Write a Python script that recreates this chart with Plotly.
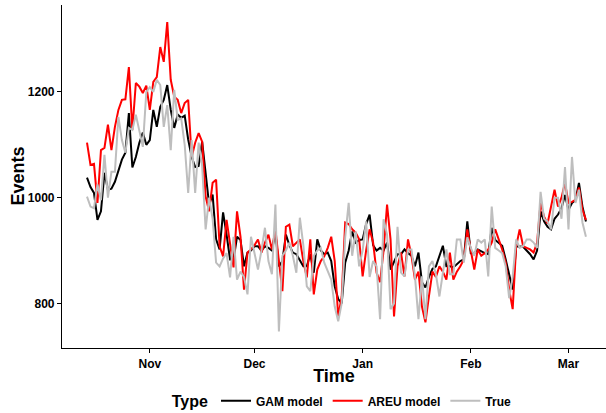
import pandas as pd
import plotly.graph_objects as go

dates = pd.date_range("2018-10-14", "2019-03-06", freq="D")

gam = [1038, 1020, 1009, 958, 974, 1047, 1015, 1017, 1030, 1053,
       1072, 1085, 1160, 1057, 1077, 1104, 1123, 1100, 1109, 1166,
       1134, 1172, 1185, 1213, 1166, 1132, 1157, 1151, 1155, 1110,
       1077, 1058, 1060, 1106, 1040, 987, 1006, 921, 902, 972,
       930, 883, 883, 926, 920, 870, 896, 900, 908, 908,
       900, 908, 905, 900, 934, 870, 880, 930, 910, 896,
       893, 880, 870, 870, 893, 858, 921, 900, 893, 896,
       880, 832, 808, 800, 877, 900, 936, 915, 920, 921,
       950, 968, 910, 900, 905, 900, 915, 864, 880, 893,
       893, 902, 895, 890, 870, 896, 840, 830, 850, 865,
       870, 890, 909, 870, 870, 868, 875, 880, 883, 955,
       895, 895, 902, 898, 895, 893, 943, 920, 915, 909,
       883, 855, 826, 908, 908, 907, 900, 893, 883, 900,
       974, 955, 945, 940, 960, 968, 980, 1005, 977, 990,
       995, 1028, 983, 955]

areu = [1104, 1062, 1064, 990, 1090, 1094, 1138, 1090, 1134, 1166,
        1185, 1186, 1247, 1128, 1217, 1210, 1198, 1212, 1166, 1219,
        1228, 1285, 1257, 1332, 1223, 1191, 1185, 1160, 1179, 1185,
        1077, 1104, 1122, 1106, 1002, 974, 1028, 1034, 908, 889,
        958, 910, 868, 974, 926, 826, 896, 902, 910, 921,
        896, 915, 930, 902, 940, 880, 823, 945, 949, 908,
        915, 921, 880, 849, 921, 817, 864, 880, 889, 905,
        926, 880, 775, 813, 953, 950, 940, 934, 921, 851,
        900, 940, 915, 858, 840, 900, 987, 921, 775, 870,
        896, 851, 921, 890, 845, 860, 794, 764, 813, 860,
        850, 870, 860, 845, 896, 845, 860, 870, 883, 940,
        900, 864, 902, 890, 895, 902, 915, 940, 921, 902,
        877, 826, 789, 908, 940, 908, 905, 902, 896, 915,
        990, 964, 951, 980, 1015, 983, 1000, 1028, 990, 992,
        996, 1019, 977, 958]

true = [1002, 983, 980, 1025, 995, 1081, 1000, 1049, 1049, 1153,
        1109, 1085, 1132, 1128, 1157, 1126, 1096, 1200, 1209, 1200,
        1223, 1213, 1134, 1175, 1090, 1204, 1147, 1150, 1100, 1009,
        1109, 1009, 1104, 1060, 940, 1000, 960, 877, 870, 885,
        895, 849, 926, 845, 860, 850, 817, 926, 895, 864,
        900, 943, 880, 855, 987, 747, 890, 900, 915, 890,
        858, 962, 910, 832, 823, 890, 900, 905, 877, 860,
        845, 794, 766, 800, 925, 990, 890, 936, 870, 900,
        955, 850, 880, 870, 770, 959, 930, 789, 800, 945,
        858, 851, 902, 902, 851, 770, 851, 770, 870, 880,
        855, 813, 855, 902, 855, 855, 921, 921, 877, 925,
        905, 890, 921, 915, 921, 851, 983, 905, 900, 895,
        870, 810, 850, 921, 905, 908, 921, 921, 915, 905,
        1011, 960, 955, 940, 1000, 1000, 960, 1058, 940, 1077,
        990, 1015, 953, 926]

series_names = ["GAM model", "AREU model", "True"]
series_values = [gam, areu, true]
series_colors = ["#000000", "#FF0000", "#BEBEBE"]

tick_vals = ["2018-11-01", "2018-12-01", "2019-01-01", "2019-02-01", "2019-03-01"]
tick_text = ["Nov", "Dec", "Jan", "Feb", "Mar"]
y_ticks = [800, 1000, 1200]

FONT = "Liberation Sans"

fig = go.Figure()
for name, vals, col in zip(series_names, series_values, series_colors):
    fig.add_trace(go.Scatter(x=dates, y=vals, mode="lines", name=name,
                             line=dict(color=col, width=2)))

fig.update_layout(
    width=606, height=413,
    margin=dict(l=62, r=0, t=5, b=65, autoexpand=False),
    plot_bgcolor="white", paper_bgcolor="white",
    font=dict(family=FONT, color="black"),
    showlegend=True,
    legend=dict(orientation="h", x=0.517, xanchor="center",
                yref="container", y=0.027, yanchor="middle",
                title=dict(text="<b>Type</b>", font=dict(size=16, family=FONT)),
                font=dict(size=12, family=FONT, weight="bold"),
                itemwidth=30, tracegroupgap=0),
    annotations=[dict(text="<b>Events</b>", xref="paper", yref="paper",
                      x=0, y=0.5, xanchor="center", yanchor="middle",
                      xshift=-45, textangle=-90, showarrow=False,
                      font=dict(size=18, family=FONT, color="black"))],
)
fig.update_xaxes(
    range=["2018-10-06 20:00", "2019-03-11 18:00"],
    tickvals=tick_vals, ticktext=["<b>%s</b>" % t for t in tick_text],
    showline=True, linecolor="black", linewidth=1.2,
    ticks="outside", ticklen=4, tickcolor="black", tickwidth=1.2,
    showgrid=False, zeroline=False, automargin=False,
    tickfont=dict(size=12, family=FONT, color="black"),
    title=dict(text="<b>Time</b>", font=dict(size=18, family=FONT), standoff=6),
)
fig.update_yaxes(
    range=[715.5, 1364.5],
    tickvals=y_ticks, ticktext=["<b>%d</b>" % v for v in y_ticks],
    showline=True, linecolor="black", linewidth=1.2,
    ticks="outside", ticklen=4, tickcolor="black", tickwidth=1.2,
    showgrid=False, zeroline=False, automargin=False,
    tickfont=dict(size=12, family=FONT, color="black"),
)

fig.write_html("out.html")
